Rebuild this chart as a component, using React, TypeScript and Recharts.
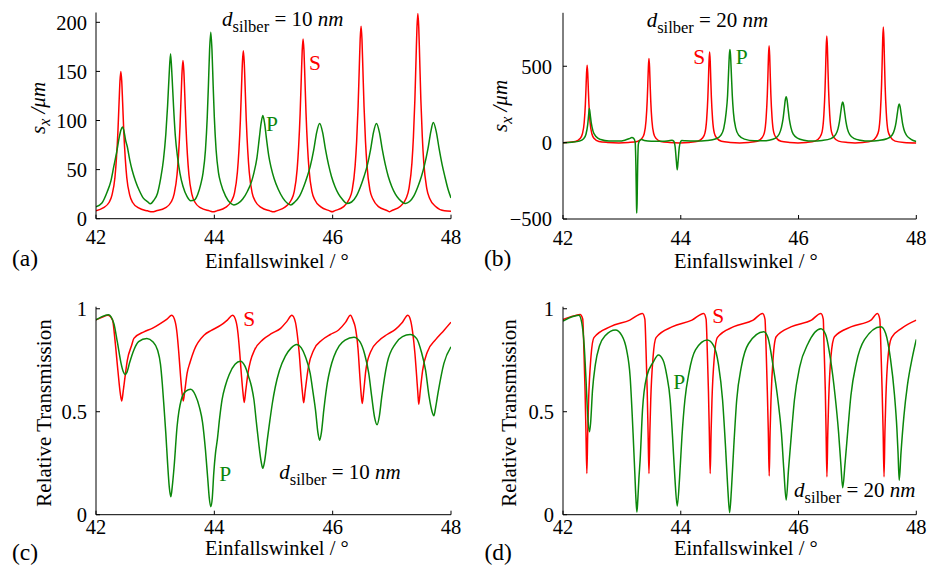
import React from 'react';
import { LineChart, Line, XAxis, YAxis } from 'recharts';

const FONT = '"Liberation Serif", "Times New Roman", Times, serif';
const RED = '#ff0000';
const GREEN = '#0b870b';

const xTicks = [42, 44, 46, 48];
const aTicks = [0, 50, 100, 150, 200];
const bTicks = [-500, 0, 500];
const cdTicks = [0, 0.5, 1];

// (a) s_x, d = 10 nm, S polarisation
const aS: [number, number][] = [
  [42.0, 8], [42.12, 11], [42.22, 16.5], [42.27, 24], [42.32, 42], [42.345, 61], [42.37, 88], [42.39, 118.5], [42.405, 140], [42.42, 150],
  [42.435, 140], [42.45, 118.5], [42.47, 88], [42.495, 61], [42.52, 42], [42.57, 24], [42.62, 16.5], [42.72, 11], [42.87, 8], [42.95, 7],
  [43.02, 8], [43.17, 11], [43.27, 17], [43.32, 25], [43.37, 45], [43.395, 65], [43.42, 94.5], [43.44, 127], [43.455, 150], [43.47, 161],
  [43.485, 150], [43.5, 127], [43.52, 94.5], [43.545, 65], [43.57, 45], [43.62, 25], [43.67, 17], [43.77, 11], [43.92, 8], [43.98, 7],
  [44.04, 8], [44.19, 11.5], [44.29, 18], [44.34, 26], [44.39, 47.5], [44.415, 69], [44.44, 100], [44.46, 135], [44.475, 159.5], [44.49, 171],
  [44.505, 159.5], [44.52, 135], [44.54, 100], [44.565, 69], [44.59, 47.5], [44.64, 26], [44.69, 18], [44.79, 11.5], [44.94, 8], [45.0, 7],
  [45.05, 8], [45.2, 12], [45.3, 19], [45.35, 27.5], [45.4, 50.5], [45.425, 73.5], [45.45, 107], [45.47, 144], [45.485, 171], [45.5, 183],
  [45.515, 171], [45.53, 144], [45.55, 107], [45.575, 73.5], [45.6, 50.5], [45.65, 27.5], [45.7, 19], [45.8, 12], [45.95, 8], [45.99, 7],
  [46.03, 8], [46.18, 12], [46.28, 20], [46.33, 29], [46.38, 54], [46.405, 78.5], [46.43, 114.5], [46.45, 154], [46.465, 183], [46.48, 196],
  [46.495, 183], [46.51, 154], [46.53, 114.5], [46.555, 78.5], [46.58, 54], [46.63, 29], [46.68, 20], [46.78, 12], [46.93, 8], [46.96, 7],
  [46.99, 8], [47.14, 12.5], [47.24, 20.5], [47.29, 31], [47.34, 57], [47.365, 83.5], [47.39, 122], [47.41, 164.5], [47.425, 195], [47.44, 209],
  [47.455, 195], [47.47, 164.5], [47.49, 122], [47.515, 83.5], [47.54, 57], [47.59, 31], [47.64, 20.5], [47.74, 12.5], [47.89, 8], [48.0, 7.5],
];

// (a) s_x, d = 10 nm, P polarisation
const aP: [number, number][] = [
  [42.0, 12.2], [42.1, 16], [42.19, 27.5], [42.25, 38], [42.3, 53], [42.35, 68], [42.39, 82], [42.42, 90], [42.445, 93.4], [42.47, 90],
  [42.5, 80], [42.53, 73], [42.57, 60], [42.61, 49.6], [42.67, 38], [42.73, 29], [42.8, 21], [42.87, 17.3], [42.92, 15.2],
  [42.98, 19], [43.04, 26], [43.09, 40], [43.14, 60], [43.18, 86], [43.21, 115], [43.235, 145], [43.26, 168], [43.285, 145], [43.31, 115],
  [43.34, 85], [43.38, 62], [43.42, 46], [43.47, 33], [43.54, 22.4], [43.6, 18.3],
  [43.66, 19], [43.72, 25], [43.77, 35], [43.81, 47], [43.85, 70], [43.88, 103], [43.9, 136], [43.92, 172], [43.94, 190], [43.96, 172],
  [43.98, 136], [44.0, 103], [44.03, 70], [44.07, 47], [44.11, 36], [44.19, 23], [44.27, 16], [44.33, 14],
  [44.4, 15.5], [44.48, 20], [44.56, 28], [44.63, 38], [44.67, 47], [44.72, 62], [44.76, 82], [44.79, 97], [44.82, 105], [44.85, 97],
  [44.88, 82], [44.92, 64], [44.96, 52], [45.01, 41], [45.08, 30], [45.16, 21], [45.23, 16], [45.29, 14],
  [45.36, 17], [45.44, 23], [45.51, 32.6], [45.57, 43], [45.62, 53], [45.68, 70], [45.73, 88], [45.78, 97], [45.83, 88], [45.88, 70],
  [45.93, 55], [45.98, 43], [46.04, 32.6], [46.1, 25], [46.16, 20], [46.24, 15.5],
  [46.32, 17], [46.4, 23], [46.47, 32.6], [46.53, 43], [46.58, 53], [46.64, 70], [46.69, 88], [46.74, 97], [46.79, 88], [46.84, 70],
  [46.89, 55], [46.94, 43], [47.0, 32.6], [47.06, 25], [47.12, 20], [47.23, 15.5],
  [47.3, 17.5], [47.37, 23], [47.44, 32.6], [47.5, 43], [47.55, 54], [47.61, 71], [47.66, 89], [47.7, 98], [47.75, 89], [47.8, 71],
  [47.85, 55], [47.9, 42], [47.95, 30], [48.0, 21],
];

// (b) s_x, d = 20 nm, S polarisation
const bS: [number, number][] = [
  [42.0, 0], [42.06, 1], [42.21, 8], [42.29, 27], [42.33, 58], [42.36, 132], [42.38, 253], [42.39, 350], [42.4, 455], [42.41, 506],
  [42.42, 455], [42.43, 350], [42.44, 253], [42.46, 132], [42.49, 58], [42.53, 27], [42.61, 8], [42.76, 1], [42.95, -2],
  [43.11, 1], [43.26, 8], [43.34, 28], [43.38, 60], [43.41, 143], [43.43, 275], [43.44, 380], [43.45, 495], [43.46, 550],
  [43.47, 495], [43.48, 380], [43.49, 275], [43.51, 143], [43.54, 60], [43.58, 28], [43.66, 8], [43.81, 1], [43.98, -2],
  [44.14, 1], [44.29, 9], [44.37, 30], [44.41, 62], [44.44, 154], [44.46, 297], [44.47, 410], [44.48, 535], [44.49, 594],
  [44.5, 535], [44.51, 410], [44.52, 297], [44.54, 154], [44.57, 62], [44.61, 30], [44.69, 9], [44.84, 1], [45.0, -2],
  [45.15, 1], [45.3, 9], [45.38, 32], [45.42, 65], [45.45, 165], [45.47, 317], [45.48, 438], [45.49, 571], [45.5, 635],
  [45.51, 571], [45.52, 438], [45.53, 317], [45.55, 165], [45.58, 65], [45.62, 32], [45.7, 9], [45.85, 1], [45.99, -2],
  [46.13, 1], [46.28, 10], [46.36, 35], [46.4, 70], [46.43, 181], [46.45, 349], [46.46, 482], [46.47, 628], [46.48, 698],
  [46.49, 628], [46.5, 482], [46.51, 349], [46.53, 181], [46.56, 70], [46.6, 35], [46.68, 10], [46.83, 1], [46.96, -2],
  [47.09, 1], [47.24, 10], [47.32, 38], [47.36, 76], [47.39, 197], [47.41, 378], [47.42, 522], [47.43, 681], [47.44, 757],
  [47.45, 681], [47.46, 522], [47.47, 378], [47.49, 197], [47.52, 76], [47.56, 38], [47.64, 10], [47.79, 1], [48.0, -2],
];

// (b) s_x, d = 20 nm, P polarisation
const bP: [number, number][] = [
  [42.0, 0], [42.15, 3], [42.28, 10], [42.35, 25], [42.39, 55], [42.42, 120], [42.435, 180], [42.447, 223], [42.46, 190], [42.48, 130],
  [42.51, 75], [42.56, 40], [42.64, 20], [42.78, 10], [42.95, 10], [43.05, 16], [43.12, 25], [43.17, 33], [43.2, 28], [43.225, 5],
  [43.238, -150], [43.248, -400], [43.252, -461], [43.258, -400], [43.268, -150], [43.28, -10], [43.3, 12], [43.33, 20], [43.38, 14],
  [43.5, 9], [43.7, 9], [43.8, 13], [43.85, 15], [43.88, 10], [43.905, -30], [43.925, -120], [43.94, -178], [43.955, -120], [43.975, -30],
  [44.0, 8], [44.02, 14], [44.08, 12], [44.25, 10], [44.45, 14], [44.6, 25], [44.68, 48], [44.73, 93], [44.77, 195], [44.795, 309],
  [44.815, 490], [44.825, 574], [44.835, 610], [44.845, 574], [44.855, 490], [44.875, 309], [44.895, 195], [44.935, 93], [44.985, 48],
  [45.08, 23], [45.25, 12], [45.4, 12], [45.5, 16], [45.6, 28], [45.67, 55], [45.71, 100], [45.735, 150], [45.76, 230], [45.775, 280],
  [45.79, 301], [45.805, 280], [45.82, 230], [45.845, 150], [45.87, 100], [45.91, 55], [45.99, 28], [46.09, 16], [46.24, 10],
  [46.4, 14], [46.55, 26], [46.63, 52], [46.67, 90], [46.695, 137], [46.72, 207], [46.735, 248], [46.75, 266], [46.765, 248], [46.78, 207],
  [46.805, 137], [46.83, 90], [46.87, 52], [46.95, 26], [47.05, 16], [47.2, 10], [47.36, 14], [47.5, 25], [47.59, 50], [47.63, 86],
  [47.655, 130], [47.68, 197], [47.695, 236], [47.71, 253], [47.725, 236], [47.74, 197], [47.765, 130], [47.79, 86], [47.83, 50],
  [47.91, 22], [48.0, 8],
];

// (c) relative transmission, d = 10 nm, S polarisation
const cS: [number, number][] = [
  [42.0, 0.946], [42.1, 0.958], [42.2, 0.968], [42.28, 0.945], [42.32, 0.85], [42.37, 0.7], [42.41, 0.59], [42.435, 0.552], [42.46, 0.6],
  [42.5, 0.69], [42.53, 0.751], [42.6, 0.82], [42.64, 0.856], [42.81, 0.888], [42.95, 0.905], [43.09, 0.929], [43.2, 0.95], [43.28, 0.968],
  [43.34, 0.935], [43.37, 0.88], [43.4, 0.784], [43.43, 0.67], [43.455, 0.59], [43.475, 0.552], [43.5, 0.6], [43.54, 0.687], [43.59, 0.74],
  [43.66, 0.8], [43.83, 0.873], [43.95, 0.895], [44.11, 0.92], [44.22, 0.945], [44.31, 0.968], [44.37, 0.935], [44.4, 0.88], [44.43, 0.784],
  [44.46, 0.67], [44.485, 0.59], [44.505, 0.545], [44.53, 0.6], [44.57, 0.69], [44.61, 0.745], [44.68, 0.8], [44.82, 0.85], [44.97, 0.88],
  [45.12, 0.905], [45.23, 0.94], [45.31, 0.968], [45.37, 0.935], [45.4, 0.88], [45.435, 0.784], [45.465, 0.67], [45.49, 0.59], [45.51, 0.543],
  [45.535, 0.6], [45.59, 0.718], [45.68, 0.8], [45.82, 0.848], [45.96, 0.875], [46.1, 0.897], [46.22, 0.935], [46.3, 0.968], [46.35, 0.94],
  [46.38, 0.913], [46.43, 0.8], [46.46, 0.67], [46.48, 0.59], [46.5, 0.54], [46.525, 0.6], [46.56, 0.7], [46.64, 0.79], [46.78, 0.845],
  [46.92, 0.875], [47.06, 0.9], [47.18, 0.935], [47.27, 0.968], [47.32, 0.94], [47.35, 0.89], [47.39, 0.784], [47.42, 0.67], [47.44, 0.59],
  [47.455, 0.536], [47.48, 0.6], [47.52, 0.7], [47.6, 0.79], [47.74, 0.85], [47.88, 0.895], [48.0, 0.935],
];

// (c) relative transmission, d = 10 nm, P polarisation
const cP: [number, number][] = [
  [42.0, 0.946], [42.1, 0.962], [42.21, 0.971], [42.3, 0.93], [42.36, 0.84], [42.42, 0.74], [42.46, 0.695], [42.49, 0.681], [42.52, 0.69],
  [42.57, 0.74], [42.64, 0.8], [42.72, 0.84], [42.86, 0.856], [42.96, 0.84], [43.04, 0.8], [43.09, 0.73], [43.12, 0.638], [43.15, 0.52],
  [43.18, 0.395], [43.21, 0.25], [43.24, 0.13], [43.265, 0.087], [43.29, 0.14], [43.32, 0.233], [43.37, 0.427], [43.44, 0.557], [43.52, 0.6],
  [43.6, 0.609], [43.68, 0.58], [43.75, 0.52], [43.8, 0.45], [43.85, 0.314], [43.89, 0.17], [43.915, 0.08], [43.94, 0.039], [43.965, 0.08],
  [43.99, 0.2], [44.02, 0.3], [44.05, 0.363], [44.09, 0.47], [44.13, 0.557], [44.19, 0.63], [44.25, 0.68], [44.35, 0.73], [44.44, 0.745],
  [44.52, 0.72], [44.58, 0.67], [44.63, 0.62], [44.67, 0.557], [44.71, 0.45], [44.75, 0.347], [44.79, 0.26], [44.82, 0.225], [44.85, 0.26],
  [44.895, 0.363], [44.94, 0.46], [44.98, 0.54], [45.03, 0.62], [45.1, 0.7], [45.2, 0.77], [45.3, 0.81], [45.39, 0.827], [45.47, 0.81],
  [45.54, 0.767], [45.62, 0.686], [45.67, 0.59], [45.71, 0.508], [45.75, 0.4], [45.78, 0.362], [45.81, 0.4], [45.85, 0.508], [45.91, 0.64],
  [45.96, 0.71], [46.02, 0.767], [46.11, 0.82], [46.21, 0.848], [46.36, 0.862], [46.46, 0.84], [46.54, 0.78], [46.61, 0.686], [46.66, 0.573],
  [46.71, 0.47], [46.75, 0.437], [46.79, 0.48], [46.83, 0.573], [46.92, 0.735], [47.06, 0.83], [47.18, 0.865], [47.31, 0.875], [47.42, 0.855],
  [47.5, 0.79], [47.57, 0.702], [47.63, 0.573], [47.68, 0.5], [47.71, 0.48], [47.74, 0.52], [47.78, 0.59], [47.88, 0.735], [48.0, 0.815],
];

// (d) relative transmission, d = 20 nm, S polarisation
const dS: [number, number][] = [
  [42.0, 0.948], [42.1, 0.958], [42.2, 0.966], [42.29, 0.972], [42.335, 0.95], [42.355, 0.8], [42.375, 0.6], [42.39, 0.4], [42.405, 0.2],
  [42.42, 0.4], [42.435, 0.557], [42.475, 0.767], [42.525, 0.86], [42.805, 0.913], [43.135, 0.945], [43.35, 0.977], [43.39, 0.95],
  [43.41, 0.8], [43.43, 0.6], [43.445, 0.4], [43.46, 0.2], [43.475, 0.4], [43.49, 0.557], [43.53, 0.767], [43.58, 0.86], [43.86, 0.913],
  [44.19, 0.945], [44.39, 0.977], [44.43, 0.95], [44.45, 0.8], [44.47, 0.6], [44.485, 0.4], [44.5, 0.2], [44.515, 0.4], [44.53, 0.557],
  [44.57, 0.767], [44.62, 0.86], [44.9, 0.913], [45.23, 0.945], [45.39, 0.977], [45.43, 0.95], [45.45, 0.8], [45.47, 0.6], [45.487, 0.4],
  [45.502, 0.188], [45.517, 0.4], [45.532, 0.557], [45.57, 0.767], [45.62, 0.864], [45.88, 0.913], [46.22, 0.945], [46.38, 0.977],
  [46.42, 0.95], [46.435, 0.8], [46.455, 0.6], [46.468, 0.4], [46.482, 0.184], [46.497, 0.4], [46.512, 0.557], [46.55, 0.767], [46.61, 0.864],
  [46.9, 0.913], [47.23, 0.945], [47.34, 0.977], [47.38, 0.95], [47.4, 0.8], [47.42, 0.6], [47.437, 0.4], [47.452, 0.184], [47.467, 0.4],
  [47.482, 0.557], [47.52, 0.767], [47.58, 0.86], [47.75, 0.905], [48.0, 0.945],
];

// (d) relative transmission, d = 20 nm, P polarisation
const dP: [number, number][] = [
  [42.0, 0.94], [42.1, 0.955], [42.2, 0.965], [42.27, 0.968], [42.32, 0.93], [42.36, 0.82], [42.39, 0.66], [42.42, 0.48], [42.45, 0.403],
  [42.47, 0.45], [42.5, 0.6], [42.55, 0.73], [42.62, 0.82], [42.72, 0.87], [42.89, 0.897], [43.0, 0.87], [43.08, 0.8], [43.14, 0.67],
  [43.19, 0.395], [43.22, 0.2], [43.24, 0.07], [43.255, 0.013], [43.27, 0.07], [43.29, 0.18], [43.31, 0.266], [43.35, 0.508], [43.42, 0.67],
  [43.53, 0.74], [43.62, 0.775], [43.7, 0.75], [43.76, 0.68], [43.82, 0.557], [43.86, 0.38], [43.9, 0.18], [43.94, 0.042], [43.98, 0.18],
  [44.02, 0.38], [44.07, 0.557], [44.14, 0.69], [44.25, 0.8], [44.45, 0.848], [44.56, 0.82], [44.64, 0.73], [44.71, 0.557], [44.76, 0.33],
  [44.8, 0.12], [44.83, 0.01], [44.86, 0.12], [44.9, 0.33], [44.95, 0.557], [45.03, 0.72], [45.15, 0.83], [45.41, 0.888], [45.48, 0.86],
  [45.57, 0.718], [45.65, 0.557], [45.71, 0.395], [45.75, 0.22], [45.79, 0.071], [45.83, 0.22], [45.88, 0.395], [45.93, 0.557], [46.02, 0.718],
  [46.16, 0.83], [46.38, 0.903], [46.46, 0.875], [46.54, 0.76], [46.62, 0.58], [46.68, 0.4], [46.72, 0.24], [46.75, 0.131], [46.79, 0.25],
  [46.84, 0.42], [46.89, 0.58], [46.98, 0.735], [47.12, 0.85], [47.4, 0.913], [47.48, 0.88], [47.56, 0.76], [47.63, 0.58], [47.67, 0.42],
  [47.69, 0.3], [47.71, 0.167], [47.74, 0.3], [47.79, 0.48], [47.85, 0.63], [47.93, 0.76], [48.0, 0.851],
];

const toRows = (pts: [number, number][]) => pts.map(([x, y]) => ({ x, y }));
const minusFmt = (v: number) => (v < 0 ? '\u2212' + Math.abs(v) : String(v));

const tickStyle = { fontSize: 20.5, fill: '#000', fontFamily: FONT };

type PanelProps = {
  left: number;
  top: number;
  margin: { top: number; right: number; bottom: number; left: number };
  yDomain: [number, number];
  yTicks: number[];
  s: [number, number][];
  p: [number, number][];
  yTickMargin: number;
  xTickMargin: number;
};

function Panel({ left, top, margin, yDomain, yTicks, s, p, yTickMargin, xTickMargin }: PanelProps) {
  return (
    <div style={{ position: 'absolute', left, top }}>
      <LineChart width={464} height={286} margin={margin}>
        <XAxis
          type="number"
          dataKey="x"
          domain={[42, 48]}
          ticks={xTicks}
          allowDataOverflow
          height={30}
          tick={tickStyle}
          tickSize={-4}
          tickMargin={xTickMargin}
          axisLine={{ stroke: '#000', strokeWidth: 1 }}
          tickLine={{ stroke: '#000' }}
        />
        <YAxis
          type="number"
          domain={yDomain}
          ticks={yTicks}
          allowDataOverflow
          width={60}
          tick={tickStyle}
          tickSize={-4}
          tickMargin={yTickMargin}
          tickFormatter={minusFmt}
          axisLine={{ stroke: '#000', strokeWidth: 1 }}
          tickLine={{ stroke: '#000' }}
        />
        <Line data={toRows(s)} dataKey="y" type="monotone" stroke={RED} strokeWidth={1.5} dot={false} isAnimationActive={false} />
        <Line data={toRows(p)} dataKey="y" type="monotone" stroke={GREEN} strokeWidth={1.5} dot={false} isAnimationActive={false} />
      </LineChart>
    </div>
  );
}

function DLabel({ x, y, value }: { x: number; y: number; value: string }) {
  return (
    <text x={x} y={y} fontSize={21} fill="#000">
      <tspan fontStyle="italic">d</tspan>
      <tspan fontSize={16.5} dy={6}>silber</tspan>
      <tspan dy={-6}>{` = ${value} `}</tspan>
      <tspan fontStyle="italic">nm</tspan>
    </text>
  );
}

function SxLabel({ x, y }: { x: number; y: number }) {
  return (
    <text transform={`translate(${x},${y}) rotate(-90)`} textAnchor="middle" fontSize={21} fill="#000">
      <tspan fontStyle="italic">s</tspan>
      <tspan fontStyle="italic" fontSize={16} dy={5}>x</tspan>
      <tspan fontStyle="italic" dy={-5}>{' /\u03bcm'}</tspan>
    </text>
  );
}

export default function App() {
  return (
    <div style={{ position: 'absolute', left: 0, top: 0, width: 928, height: 572, background: '#fff', fontFamily: FONT }}>
      <Panel left={0} top={0} margin={{ top: 12.5, right: 13, bottom: 37.3, left: 36 }} yDomain={[0, 210]} yTicks={aTicks} s={aS} p={aP} yTickMargin={13} xTickMargin={15} />
      <Panel left={464} top={0} margin={{ top: 12.8, right: 11.7, bottom: 37, left: 39 }} yDomain={[-500, 850]} yTicks={bTicks} s={bS} p={bP} yTickMargin={15} xTickMargin={15} />
      <Panel left={0} top={286} margin={{ top: 20.7, right: 13, bottom: 27.3, left: 36 }} yDomain={[0, 1.01]} yTicks={cdTicks} s={cS} p={cP} yTickMargin={13} xTickMargin={8.5} />
      <Panel left={464} top={286} margin={{ top: 20.7, right: 11.7, bottom: 27.3, left: 39 }} yDomain={[0, 1.01]} yTicks={cdTicks} s={dS} p={dP} yTickMargin={13} xTickMargin={8.5} />
      <svg width={928} height={572} style={{ position: 'absolute', left: 0, top: 0, pointerEvents: 'none' }} fontFamily={FONT}>
        <DLabel x={222} y={26} value="10" />
        <DLabel x={646.7} y={26.7} value="20" />
        <DLabel x={279.3} y={478.7} value="10" />
        <DLabel x={794} y={496.7} value="20" />

        <text x={309} y={70} fontSize={21.5} fill={RED}>S</text>
        <text x={266} y={131} fontSize={21.5} fill={GREEN}>P</text>
        <text x={693.3} y={64} fontSize={21.5} fill={RED}>S</text>
        <text x={735.7} y={64} fontSize={21.5} fill={GREEN}>P</text>
        <text x={243.3} y={326} fontSize={21.5} fill={RED}>S</text>
        <text x={219.3} y={481} fontSize={21.5} fill={GREEN}>P</text>
        <text x={712.3} y={323.3} fontSize={21.5} fill={RED}>S</text>
        <text x={673.3} y={389.3} fontSize={21.5} fill={GREEN}>P</text>

        <text x={205} y={268} fontSize={20.5} fill="#000">Einfallswinkel / °</text>
        <text x={674} y={268} fontSize={20.5} fill="#000">Einfallswinkel / °</text>
        <text x={205} y={555} fontSize={20.5} fill="#000">Einfallswinkel / °</text>
        <text x={674} y={555} fontSize={20.5} fill="#000">Einfallswinkel / °</text>

        <SxLabel x={45} y={108} />
        <SxLabel x={507} y={106} />
        <text transform="translate(51,413) rotate(-90)" textAnchor="middle" fontSize={21} fill="#000">Relative Transmission</text>
        <text transform="translate(515.5,413) rotate(-90)" textAnchor="middle" fontSize={21} fill="#000">Relative Transmission</text>

        <text x={12} y={266} fontSize={23.5} fill="#000">(a)</text>
        <text x={484} y={266} fontSize={23.5} fill="#000">(b)</text>
        <text x={12} y={560} fontSize={23.5} fill="#000">(c)</text>
        <text x={484.5} y={560} fontSize={23.5} fill="#000">(d)</text>
      </svg>
    </div>
  );
}
